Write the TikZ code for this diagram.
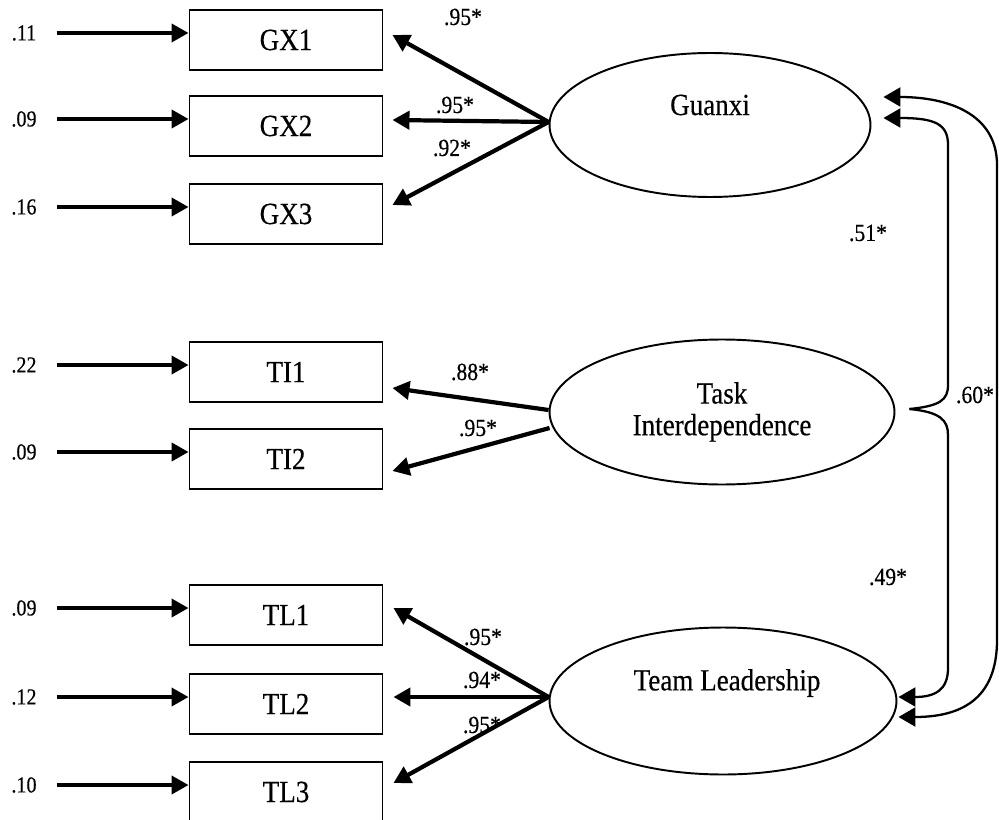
\documentclass[tikz,border=0pt]{standalone}
\usepackage{fontspec}
\setmainfont[FakeStretch=0.88,FakeBold=0.4]{Liberation Serif}
\usetikzlibrary{arrows.meta,calc,shapes.geometric}

\begin{document}
\begin{tikzpicture}[x=0.02cm,y=-0.02cm,
  obsbox/.style={draw,line width=1.1pt,minimum width=3.86cm,minimum height=1.2cm,
    inner sep=0pt,font=\fontsize{17.5}{18}\selectfont},
  latent/.style={draw,ellipse,line width=1.1pt,inner sep=0pt,align=center,
    font=\fontsize{17.5}{18}\selectfont},
  lattext/.style={font=\fontsize{17.5}{18}\selectfont},
  errlab/.style={inner sep=0pt,font=\fontsize{13}{15}\selectfont},
  coef/.style={inner sep=0pt,font=\fontsize{14}{16}\selectfont},
  errarrow/.style={-{Triangle[length=0.34cm,width=0.36cm]},line width=2.2pt,shorten <=0.4cm},
  loadarrow/.style={-{Triangle[length=0.34cm,width=0.36cm]},line width=2.4pt},
  covarrow/.style={-{Triangle[length=0.34cm,width=0.38cm]},line width=1.3pt},
  covboth/.style={{Triangle[length=0.34cm,width=0.38cm]}-{Triangle[length=0.34cm,width=0.38cm]},line width=1.3pt}]
  \useasboundingbox (0,0) rectangle (999,820);

  % indicators with their error terms
  \foreach \name/\txt/\yy/\err in {gx1/GX1/40/.11, gx2/GX2/126/.09, gx3/GX3/214/.16,
      ti1/TI1/372/.22, ti2/TI2/459/.09, tl1/TL1/615/.09, tl2/TL2/704/.12, tl3/TL3/792/.10} {
    \node[obsbox] (\name) at (286,\yy) {\txt};
    \node[errlab] (e\name) at (24,\yy-7) {\err};
    \draw[errarrow] (e\name) -- (e\name -| \name.west);
  }

  % latent factors
  \node[latent,minimum width=6.42cm,minimum height=2.88cm,
    label={[lattext,yshift=0.4cm]center:Guanxi}] (gx) at (710,125) {};
  \node[latent,minimum width=6.9cm,minimum height=2.9cm] (ti) at (722,412) {Task\\Interdependence};
  \node[latent,minimum width=6.94cm,minimum height=2.94cm,
    label={[lattext,yshift=0.36cm,xshift=0.08cm]center:Team Leadership}] (tl) at (723,701) {};

  % loadings
  \draw[loadarrow] ($(gx.west)+(0,-3)$) -- ($(gx1.east)+(9,-5)$) node[coef] at (463,17) {.95*};
  \draw[loadarrow] ($(gx.west)+(0,-3)$) -- ($(gx2.east)+(9,-6)$) node[coef] at (455,105) {.95*};
  \draw[loadarrow] ($(gx.west)+(0,-3)$) -- ($(gx3.east)+(9,-9)$) node[coef] at (452,148) {.92*};
  \draw[loadarrow] ($(ti.west)+(0,-2)$) -- ($(ti1.east)+(9,16)$) node[coef] at (470,372) {.88*};
  \draw[loadarrow] ($(ti.west)+(1,16)$) -- ($(ti2.east)+(9,12)$) node[coef] at (478,428) {.95*};
  \draw[loadarrow] ($(tl.west)+(0,-4)$) -- ($(tl1.east)+(10,-7)$) node[coef] at (483,637) {.95*};
  \draw[loadarrow] ($(tl.west)+(0,-4)$) -- ($(tl2.east)+(10,-7)$) node[coef] at (482,680) {.94*};
  \draw[loadarrow] ($(tl.west)+(0,-4)$) -- ($(tl3.east)+(10,-9)$) node[coef] at (482,725) {.95*};

  % correlations
  \coordinate (fork) at ($(ti.east)+(14,-3)$);
  \draw[covarrow] (fork) .. controls (940,406) and (948,400) .. (948,385) -- (948,145)
    .. controls (948,124) and (935,118) .. ($(gx.east)+(12,-7)$) node[coef] at (868,233) {.51*};
  \draw[covarrow] (fork) .. controls (940,412) and (948,420) .. (948,435) -- (948,668)
    .. controls (948,690) and (935,697) .. ($(tl.east)+(1,-4)$) node[coef] at (888,577) {.49*};
  \draw[covboth] ($(gx.east)+(12,-28)$) .. controls (950,97) and (997,115) .. (997,165) -- (997,640)
    .. controls (997,700) and (960,717) .. ($(tl.east)+(1,16)$) node[coef] at (975,395) {.60*};
\end{tikzpicture}
\end{document}
